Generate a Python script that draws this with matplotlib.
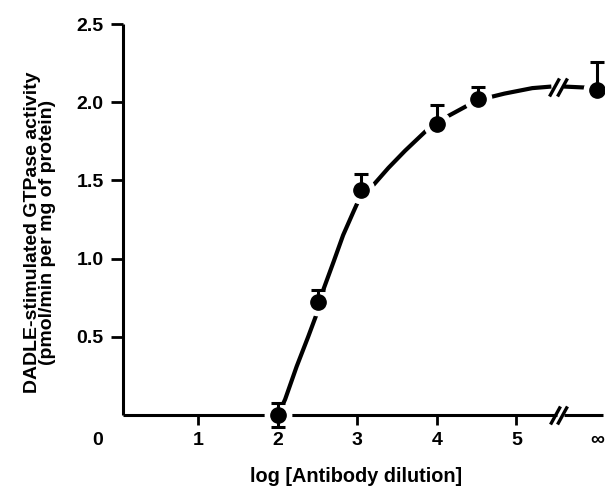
import numpy as np
import matplotlib
matplotlib.use("Agg")
import matplotlib.pyplot as plt

plt.rcParams['font.family'] = ['Liberation Sans', 'DejaVu Sans']
plt.rcParams['font.weight'] = 'bold'

# measured points: log dilution (6.02 stands in for infinity)
dil = [2.0, 2.5, 3.04, 4.0, 4.52, 6.02]
activity = [0.0, 0.725, 1.44, 1.86, 2.02, 2.08]
err_up = [0.075, 0.075, 0.10, 0.12, 0.08, 0.18]
err_lo = [0.075, 0, 0, 0, 0, 0]

# hand-drawn curve (left of the break, then right)
curve_x = [2.0, 2.09, 2.235, 2.38, 2.49, 2.57, 2.70, 2.82, 2.95, 3.03, 3.2,
           3.39, 3.6, 3.87, 4.0, 4.1, 4.39, 4.52, 4.69, 4.85, 5.0, 5.2, 5.44]
curve_y = [0.0, 0.10, 0.31, 0.50, 0.65, 0.80, 0.98, 1.15, 1.30, 1.39, 1.47,
           1.58, 1.69, 1.82, 1.86, 1.90, 1.98, 2.02, 2.035, 2.055, 2.07, 2.09, 2.10]
curve2_x = [5.6, 6.02]
curve2_y = [2.10, 2.09]

xticks = [1, 2, 3, 4, 5, 6.02]
xticklabels = ['1', '2', '3', '4', '5', '∞']
yticks = [0.5, 1.0, 1.5, 2.0, 2.5]
yticklabels = ['0.5', '1.0', '1.5', '2.0', '2.5']

xlim = (0.05, 6.09)
axis_break = (5.51, 5.6)
curve_break = [5.47, 5.58]
axis_slash = [5.49, 5.57]

fig = plt.figure(figsize=(6.05, 4.87), dpi=100)
ax = fig.add_axes([123 / 605, 72 / 487, 480 / 605, 391 / 487])

# curve
ax.plot(curve_x, curve_y, color='k', lw=3.0, solid_capstyle='butt',
        solid_joinstyle='round', zorder=2)
ax.plot(curve2_x, curve2_y, color='k', lw=3.0, solid_capstyle='butt', zorder=2,
        clip_on=False)
slash = [(-0.55, -1), (0.55, 1)]
ax.plot(curve_break, [2.095, 2.10], ls='none', marker=slash, ms=13,
        mec='k', mew=2.4, zorder=2)

# x axis with break
ax.plot([xlim[0], axis_break[0]], [0, 0], color='k', lw=2.2, clip_on=False,
        solid_capstyle='butt', zorder=2)
ax.plot([axis_break[1], xlim[1]], [0, 0], color='k', lw=2.2, clip_on=False,
        solid_capstyle='butt', zorder=2)
ax.plot(axis_slash, [0, 0], ls='none', marker=slash, ms=13, mec='k', mew=2.4,
        clip_on=False, zorder=2)

# white halo so lines stop short of the points
ax.plot(dil, activity, ls='none', marker='o', ms=19, mfc='white', mec='white',
        zorder=3, clip_on=False)
ax.errorbar(dil, activity, yerr=[err_lo, err_up], fmt='none', ecolor='k',
            elinewidth=2.2, capsize=5, capthick=2.2, zorder=4, clip_on=False)
ax.plot(dil, activity, ls='none', marker='o', ms=11, mfc='k', mec='k',
        zorder=5, clip_on=False)

ax.set_xlim(*xlim)
ax.set_ylim(0, 2.5)
for s in ['top', 'right', 'bottom']:
    ax.spines[s].set_visible(False)
ax.spines['left'].set_linewidth(2.2)
ax.spines['left'].set_capstyle('butt')

ax.set_xticks(xticks)
ax.set_xticklabels(xticklabels)
ax.set_yticks(yticks)
ax.set_yticklabels(yticklabels)
ax.tick_params(axis='x', direction='out', length=7, width=2, pad=5, labelsize=14)
ax.tick_params(axis='y', direction='out', length=9, width=2, pad=5, labelsize=14)
ax.get_xticklines()[-2].set_visible(False)

ax.annotate('0', xy=(-0.27, 0), xycoords=('data', 'axes fraction'),
            xytext=(0, -12), textcoords='offset points', ha='center', va='top',
            fontsize=14, annotation_clip=False)

fig.text(40 / 605, 1 - 232 / 487,
         'DADLE-stimulated GTPase activity\n(pmol/min per mg of protein)',
         rotation=90, ha='center', va='center', fontsize=14, linespacing=0.92,
         multialignment='center')
fig.text(356 / 605, 1 - 476 / 487, 'log [Antibody dilution]',
         ha='center', va='center', fontsize=14.3)

fig.savefig('out.png', dpi=100)
